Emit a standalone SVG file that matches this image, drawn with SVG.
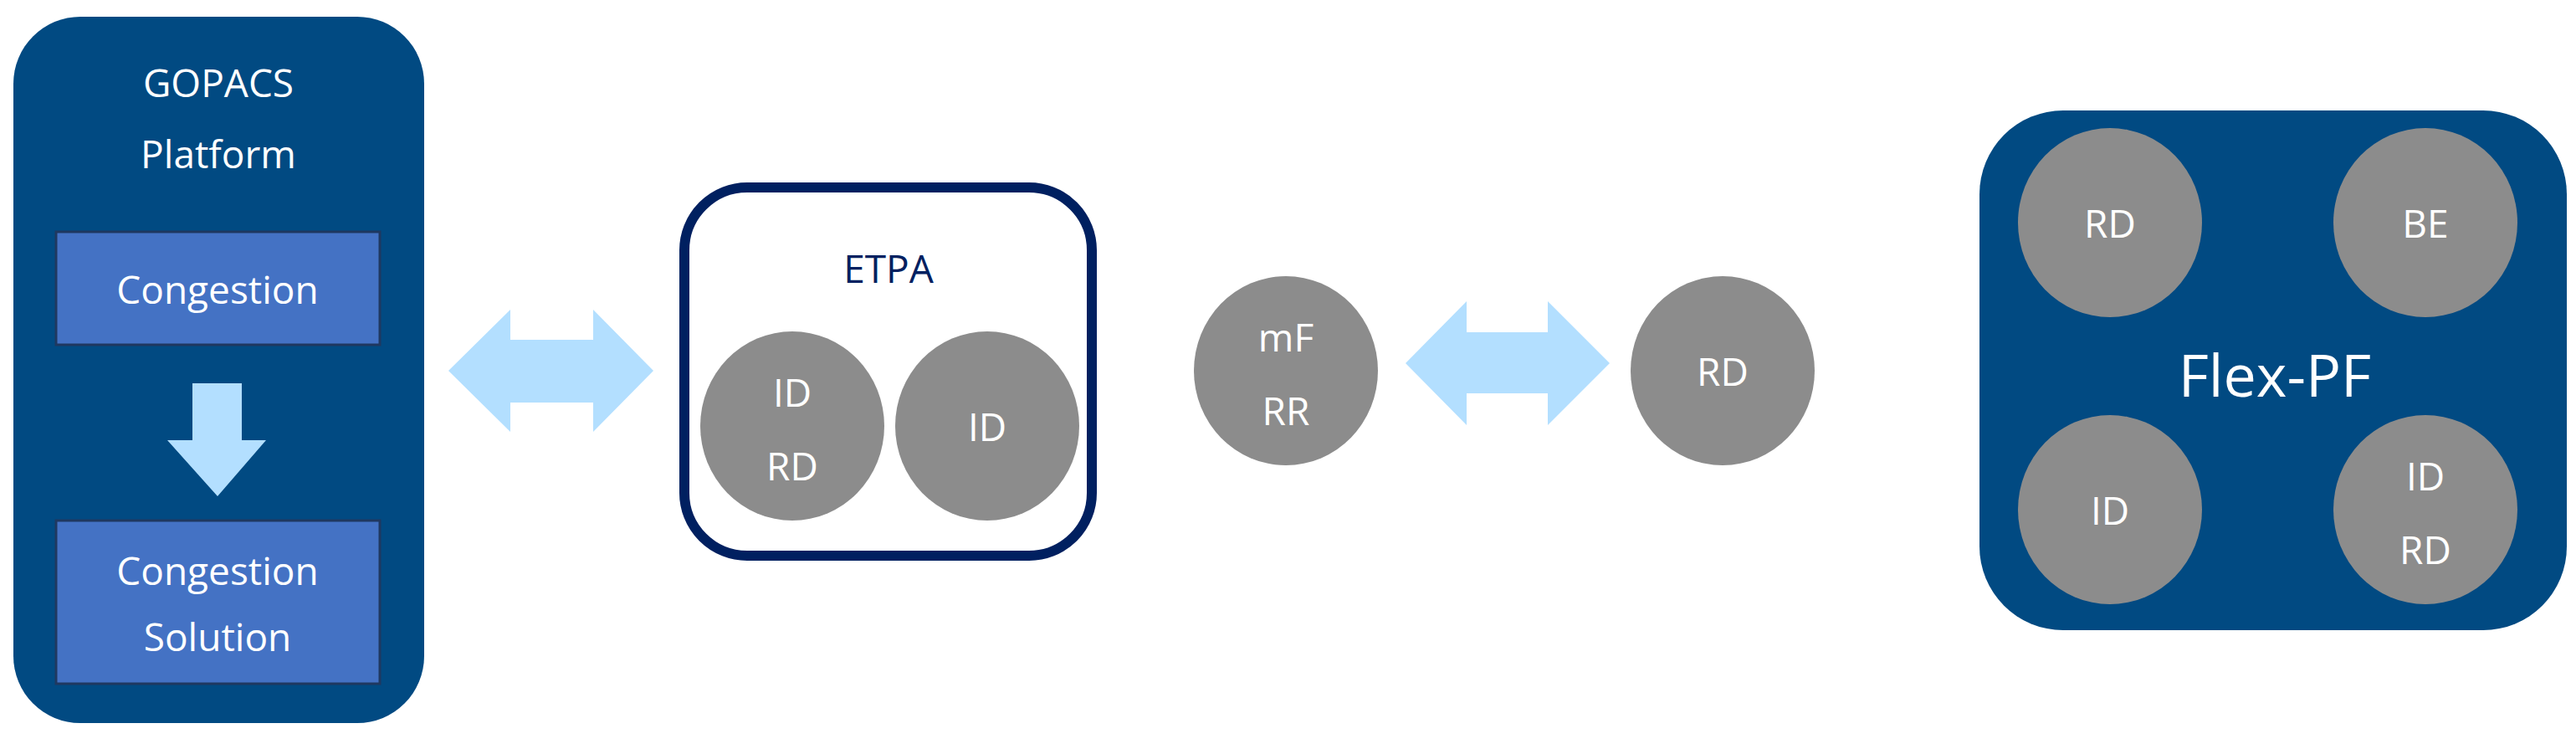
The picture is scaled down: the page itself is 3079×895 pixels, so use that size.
<svg xmlns="http://www.w3.org/2000/svg" width="3079" height="895" viewBox="0 0 3079 895">
<style>
text{font-family:"Open Sans","Liberation Sans",sans-serif;text-anchor:middle;dominant-baseline:central;fill:#fff}
.big{font-size:46px}
.c{fill:#8c8c8c}
.arr{fill:#b3dfff}
.sub{fill:#4472c4;stroke:#1f3860;stroke-width:3}
</style>
<rect width="3079" height="895" fill="#fff"/>
<g id="gopacs">
<rect x="16" y="20" width="491" height="844" rx="80" fill="#014a82"/>
<text class="big" x="261" y="98">GOPACS</text>
<text class="big" x="261" y="183">Platform</text>
</g>
<g id="congestion">
<rect class="sub" x="67" y="277" width="387" height="135"/>
<text class="big" x="260" y="345">Congestion</text>
</g>
<g id="solution">
<rect class="sub" x="67" y="622" width="387" height="195"/>
<text class="big" x="260" y="681">Congestion</text>
<text class="big" x="260" y="760">Solution</text>
</g>
<g id="etpa">
<rect x="818" y="224" width="487" height="440" rx="75" fill="#fff" stroke="#002060" stroke-width="12"/>
<text class="big" x="1062" y="320" style="fill:#002060">ETPA</text>
<ellipse class="c" cx="947" cy="509" rx="110" ry="113"/>
<text class="big" x="947" y="468">ID</text>
<text class="big" x="947" y="556">RD</text>
<ellipse class="c" cx="1180" cy="509" rx="110" ry="113"/>
<text class="big" x="1180" y="509">ID</text>
</g>
<g id="mfrr">
<ellipse class="c" cx="1537" cy="443" rx="110" ry="113"/>
<text class="big" x="1537" y="402">mF</text>
<text class="big" x="1537" y="490">RR</text>
</g>
<g id="rd">
<ellipse class="c" cx="2059" cy="443" rx="110" ry="113"/>
<text class="big" x="2059" y="443">RD</text>
</g>
<g id="flexpf">
<rect x="2366" y="132" width="702" height="621" rx="100" fill="#014a82"/>
<text x="2719" y="447" style="font-size:70px">Flex-PF</text>
<ellipse class="c" cx="2522" cy="266" rx="110" ry="113"/>
<text class="big" x="2522" y="266">RD</text>
<ellipse class="c" cx="2899" cy="266" rx="110" ry="113"/>
<text class="big" x="2899" y="266">BE</text>
<ellipse class="c" cx="2522" cy="609" rx="110" ry="113"/>
<text class="big" x="2522" y="609">ID</text>
<ellipse class="c" cx="2899" cy="609" rx="110" ry="113"/>
<text class="big" x="2899" y="568">ID</text>
<text class="big" x="2899" y="656">RD</text>
</g>
<g id="connectors">
<polygon class="arr" points="230,458 289,458 289,526 318,526 260,593 200,526 230,526"/>
<polygon class="arr" points="536,443 610,370 610,406 709,406 709,370 781,443 709,516 709,481 610,481 610,516"/>
<polygon class="arr" points="1680,434 1753,360 1753,397 1850,397 1850,360 1924,434 1850,508 1850,470 1753,470 1753,508"/>
</g>
</svg>
